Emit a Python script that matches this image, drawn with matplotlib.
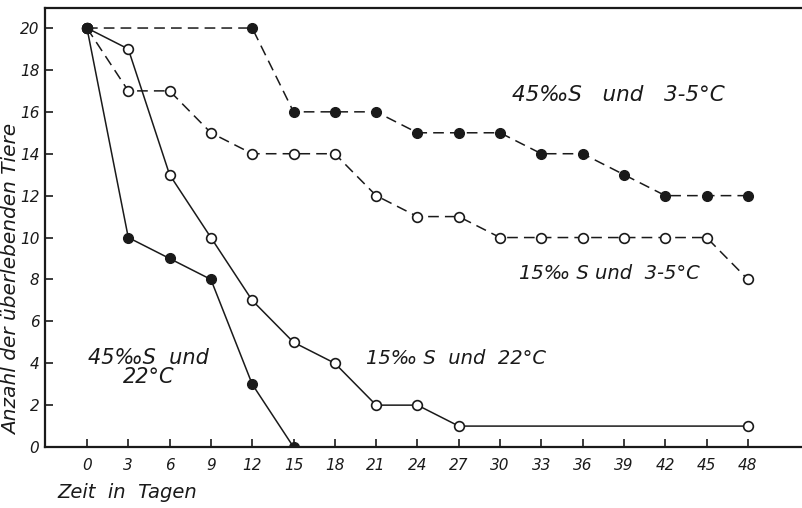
import matplotlib
matplotlib.use("Agg")
import matplotlib.pyplot as plt

# Ueberlebende Tiere ueber die Zeit (Tage)
days_45_cold = [0, 12, 15, 18, 21, 24, 27, 30, 33, 36, 39, 42, 45, 48]
alive_45_cold = [20, 20, 16, 16, 16, 15, 15, 15, 14, 14, 13, 12, 12, 12]

days_15_cold = [0, 3, 6, 9, 12, 15, 18, 21, 24, 27, 30, 33, 36, 39, 42, 45, 48]
alive_15_cold = [20, 17, 17, 15, 14, 14, 14, 12, 11, 11, 10, 10, 10, 10, 10, 10, 8]

days_15_warm = [0, 3, 6, 9, 12, 15, 18, 21, 24, 27, 48]
alive_15_warm = [20, 19, 13, 10, 7, 5, 4, 2, 2, 1, 1]

days_45_warm = [0, 3, 6, 9, 12, 15]
alive_45_warm = [20, 10, 9, 8, 3, 0]

xticks = list(range(0, 49, 3))
yticks = list(range(0, 21, 2))

plt.rcParams['font.family'] = ['DejaVu Sans']
plt.rcParams['font.style'] = 'italic'

fig = plt.figure(figsize=(8.03, 5.08), dpi=100)
ax = fig.add_axes([0.056, 0.12, 0.944, 0.864])

ink = '#1a1a1a'
ms = 7
dash = (0, (7, 4))
ax.plot(days_45_cold, alive_45_cold, ls=dash, lw=1.1, color=ink,
        marker='o', ms=ms, mfc=ink, mec=ink)
ax.plot(days_15_cold, alive_15_cold, ls=dash, lw=1.1, color=ink,
        marker='o', ms=ms, mfc='white', mec=ink, mew=1.2)
ax.plot(days_15_warm, alive_15_warm, ls='-', lw=1.1, color=ink,
        marker='o', ms=ms, mfc='white', mec=ink, mew=1.2)
ax.plot(days_45_warm, alive_45_warm, ls='-', lw=1.1, color=ink,
        marker='o', ms=ms, mfc=ink, mec=ink)
# Startpunkt gemeinsam, gefuellt
ax.plot([days_45_cold[0]], [alive_45_cold[0]], 'o', ms=ms, color=ink)

ax.set_xlim(-3.05, 52)
ax.set_ylim(0, 20.95)
ax.set_xticks(xticks)
ax.set_yticks(yticks)
ax.tick_params(direction='in', length=6, width=1.2, labelsize=11, colors=ink)
ax.tick_params(axis='x', pad=8)
ax.tick_params(axis='y', pad=4)
for s in ['left', 'bottom', 'top']:
    ax.spines[s].set_linewidth(1.6)
    ax.spines[s].set_color(ink)
ax.spines['right'].set_visible(False)

ax.text(30.9, 16.8, '45‰S   und   3-5°C', fontsize=15.5, color=ink, va='center')
ax.text(31.4, 8.3, '15‰ S und  3-5°C', fontsize=14, color=ink, va='center')
ax.text(20.3, 4.25, '15‰ S  und  22°C', fontsize=14, color=ink, va='center')
ax.text(4.45, 3.8, '45‰S  und\n22°C', fontsize=15, color=ink, ha='center',
        va='center', linespacing=0.9)

fig.text(0.014, 0.449, 'Anzahl der überlebenden Tiere', rotation=90,
         fontsize=14.5, color=ink, ha='center', va='center')
fig.text(0.071, 0.03, 'Zeit  in  Tagen', fontsize=14, color=ink,
         ha='left', va='center')

fig.savefig('out.png', dpi=100)
